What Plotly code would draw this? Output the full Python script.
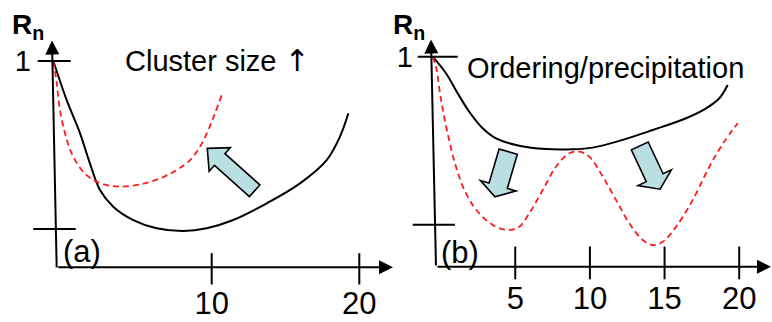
import math
import plotly.graph_objects as go

W, H = 772, 322
FONT = "Liberation Sans, Arial, sans-serif"

# ---------------- data (schematic values) ----------------
# Panel (a): cluster size effect
A_BLACK_N = [-0.73, 0.17, 1.08, 1.75, 2.43, 3.33, 4.69, 6.27, 8.08, 9.66, 11.46, 13.73, 15.98, 17.79, 18.69, 19.26]
A_BLACK_R = [1.0, 0.811, 0.649, 0.503, 0.374, 0.293, 0.228, 0.188, 0.175, 0.188, 0.228, 0.309, 0.406, 0.519, 0.633, 0.746]
A_RED_N = [-0.73, -0.50, -0.28, 0.06, 0.51, 1.19, 1.98, 2.89, 3.79, 5.14, 6.50, 7.63, 8.53, 9.21, 9.77, 10.22, 10.68]
A_RED_R = [1.0, 0.892, 0.762, 0.649, 0.552, 0.471, 0.422, 0.398, 0.390, 0.401, 0.430, 0.471, 0.519, 0.584, 0.665, 0.746, 0.835]

# Panel (b): ordering / precipitation
B_BLACK_N = [-0.53, 0.36, 1.14, 1.92, 2.82, 3.71, 5.27, 7.06, 8.85, 10.19, 11.97, 14.21, 16.44, 17.78, 18.67, 19.23]
B_BLACK_R = [1.0, 0.921, 0.826, 0.738, 0.659, 0.611, 0.576, 0.560, 0.559, 0.567, 0.599, 0.651, 0.707, 0.754, 0.802, 0.865]
B_RED_N = [-0.53, -0.31, 0.03, 0.47, 1.03, 1.70, 2.59, 3.71, 4.60, 5.27, 5.94, 6.84, 7.73, 8.62, 9.29, 9.96,
           10.86, 11.75, 12.64, 13.54, 14.21, 14.88, 15.77, 16.89, 18.0, 18.92, 19.90]
B_RED_R = [1.0, 0.952, 0.794, 0.635, 0.476, 0.349, 0.254, 0.190, 0.175, 0.190, 0.254, 0.365, 0.476, 0.540, 0.548, 0.524,
           0.429, 0.318, 0.207, 0.127, 0.103, 0.119, 0.190, 0.318, 0.476, 0.587, 0.683]

X_TICKS_A = [10, 20]
X_TICKS_B = [5, 10, 15, 20]
Y_TICKS_A = [1, 0.185]
Y_TICKS_B = [1, 0.2]
Y_TICK_TEXT = ["1", ""]

PANEL_LABELS = ["(a)", "(b)"]
PANEL_TITLES = ["Cluster size <span style=\"font-family:DejaVu Sans;font-size:30px\">\u2191</span>",
                "Ordering/precipitation"]

# ---------------- layout geometry ----------------
XR_A = [-4.343, 21.809]
XR_B = [-3.657, 22.197]
YR_A = [-0.267, 1.2961]
YR_B = [-0.2633, 1.27]
DOM_A = [0.0, 0.5]
DOM_B = [0.5, 1.0]


def to_px(x, y, xr, yr, dom):
    px = (dom[0] + (x - xr[0]) / (xr[1] - xr[0]) * (dom[1] - dom[0])) * W
    py = (yr[1] - y) / (yr[1] - yr[0]) * H
    return px, py


def to_data(px, py, xr, yr, dom):
    x = xr[0] + (px / W - dom[0]) / (dom[1] - dom[0]) * (xr[1] - xr[0])
    y = yr[1] - py / H * (yr[1] - yr[0])
    return x, y


def block_arrow(tail, tip, sw, hw, hl, xr, yr, dom):
    tx, ty = to_px(*tail, xr, yr, dom)
    px, py = to_px(*tip, xr, yr, dom)
    L = math.hypot(px - tx, py - ty)
    dx, dy = (px - tx) / L, (py - ty) / L
    nx, ny = -dy, dx
    bx, by = px - dx * hl, py - dy * hl
    pts = [
        (tx + nx * sw / 2, ty + ny * sw / 2),
        (bx + nx * sw / 2, by + ny * sw / 2),
        (bx + nx * hw / 2, by + ny * hw / 2),
        (px, py),
        (bx - nx * hw / 2, by - ny * hw / 2),
        (bx - nx * sw / 2, by - ny * sw / 2),
        (tx - nx * sw / 2, ty - ny * sw / 2),
    ]
    d = [to_data(a, b, xr, yr, dom) for a, b in pts]
    return "M " + " L ".join(f"{a:.4f},{b:.4f}" for a, b in d) + " Z"


fig = go.Figure()

line_black = dict(color="black", width=2, shape="spline")
line_red = dict(color="#ff1a1a", width=1.8, dash="6px,4px", shape="spline")

fig.add_trace(go.Scatter(x=A_BLACK_N, y=A_BLACK_R, mode="lines", line=line_black, xaxis="x", yaxis="y"))
fig.add_trace(go.Scatter(x=A_RED_N, y=A_RED_R, mode="lines", line=line_red, xaxis="x", yaxis="y"))
fig.add_trace(go.Scatter(x=B_BLACK_N, y=B_BLACK_R, mode="lines", line=line_black, xaxis="x2", yaxis="y2"))
fig.add_trace(go.Scatter(x=B_RED_N, y=B_RED_R, mode="lines", line=line_red, xaxis="x2", yaxis="y2"))

shapes = []
# x tick marks crossing the axis
for v in X_TICKS_A:
    shapes.append(dict(type="line", xref="x", yref="y", x0=v, x1=v, y0=0.067, y1=-0.085,
                       line=dict(color="black", width=2)))
for v in X_TICKS_B:
    shapes.append(dict(type="line", xref="x2", yref="y2", x0=v, x1=v, y0=0.096, y1=-0.06,
                       line=dict(color="black", width=2)))
# y tick marks crossing the axis
for v, (x0, x1) in zip(Y_TICKS_A, [(-1.79, 0.45), (-2.09, 0.79)]):
    shapes.append(dict(type="line", xref="x", yref="y", x0=x0, x1=x1, y0=v, y1=v,
                       line=dict(color="black", width=2)))
for v, (x0, x1) in zip(Y_TICKS_B, [(-1.53, 1.15), (-1.87, 0.96)]):
    shapes.append(dict(type="line", xref="x2", yref="y2", x0=x0, x1=x1, y0=v, y1=v,
                       line=dict(color="black", width=2)))

# block arrows
ARROW_FILL = "#b9dfe3"
shapes.append(dict(type="path", xref="x", yref="y",
                   path=block_arrow((12.91, 0.370), (9.70, 0.576), 15.7, 31.7, 16.7, XR_A, YR_A, DOM_A),
                   fillcolor=ARROW_FILL, line=dict(color="black", width=1.6)))
shapes.append(dict(type="path", xref="x2", yref="y2",
                   path=block_arrow((4.53, 0.548), (3.64, 0.333), 19.0, 37.0, 11.5, XR_B, YR_B, DOM_B),
                   fillcolor=ARROW_FILL, line=dict(color="black", width=1.6)))
shapes.append(dict(type="path", xref="x2", yref="y2",
                   path=block_arrow((13.34, 0.575), (14.70, 0.369), 18.6, 37.0, 12.7, XR_B, YR_B, DOM_B),
                   fillcolor=ARROW_FILL, line=dict(color="black", width=1.6)))

annotations = []


def axis_arrow(tip, tail):
    annotations.append(dict(xref="paper", yref="paper", x=tip[0] / W, y=1 - tip[1] / H,
                            ax=tail[0] - tip[0], ay=tail[1] - tip[1], axref="pixel", ayref="pixel",
                            text="", showarrow=True, arrowhead=2, arrowsize=1.4, arrowwidth=2,
                            arrowcolor="black"))


axis_arrow((52, 40.5), (56.7, 269))
axis_arrow((393, 267.3), (56.7, 267.3))
axis_arrow((431, 39.5), (436, 267))
axis_arrow((771.5, 266.7), (436, 266.7))


def text(s, px, py, size, xanchor="center"):
    annotations.append(dict(xref="paper", yref="paper", x=px / W, y=1 - py / H, text=s,
                            showarrow=False, xanchor=xanchor, yanchor="middle",
                            font=dict(family=FONT, size=size, color="black")))


text(PANEL_TITLES[0], 217, 61, 29)
text(PANEL_TITLES[1], 605, 68, 29)
text(PANEL_LABELS[0], 82, 251, 31)
text(PANEL_LABELS[1], 460, 252, 31)
text("<b>R<sub>n</sub></b>", 10, 27, 28, xanchor="left")
text("<b>R<sub>n</sub></b>", 391, 27, 28, xanchor="left")

axis_common = dict(showgrid=False, zeroline=False, showline=False, ticks="", fixedrange=True,
                   automargin=False)

fig.update_layout(
    width=W, height=H, autosize=False,
    margin=dict(l=0, r=0, t=0, b=0, pad=0, autoexpand=False),
    paper_bgcolor="white", plot_bgcolor="rgba(0,0,0,0)",
    showlegend=False,
    font=dict(family=FONT, color="black"),
    xaxis=dict(domain=DOM_A, range=XR_A, anchor="free", position=1 - 267.3 / H,
               tickvals=X_TICKS_A, ticktext=[str(v) for v in X_TICKS_A],
               tickfont=dict(size=31, family=FONT, color="black"), ticklabelstandoff=15, **axis_common),
    xaxis2=dict(domain=DOM_B, range=XR_B, anchor="free", position=1 - 266.7 / H,
                tickvals=X_TICKS_B, ticktext=[str(v) for v in X_TICKS_B],
                tickfont=dict(size=31, family=FONT, color="black"), ticklabelstandoff=10, **axis_common),
    yaxis=dict(domain=[0, 1], range=YR_A, anchor="free", position=31 / W,
               tickvals=Y_TICKS_A, ticktext=Y_TICK_TEXT,
               tickfont=dict(size=29, family=FONT, color="black"), **axis_common),
    yaxis2=dict(domain=[0, 1], range=YR_B, anchor="free", position=413 / W,
                tickvals=Y_TICKS_B, ticktext=Y_TICK_TEXT,
                tickfont=dict(size=29, family=FONT, color="black"), **axis_common),
    shapes=shapes,
    annotations=annotations,
)

fig.write_html("out.html")
